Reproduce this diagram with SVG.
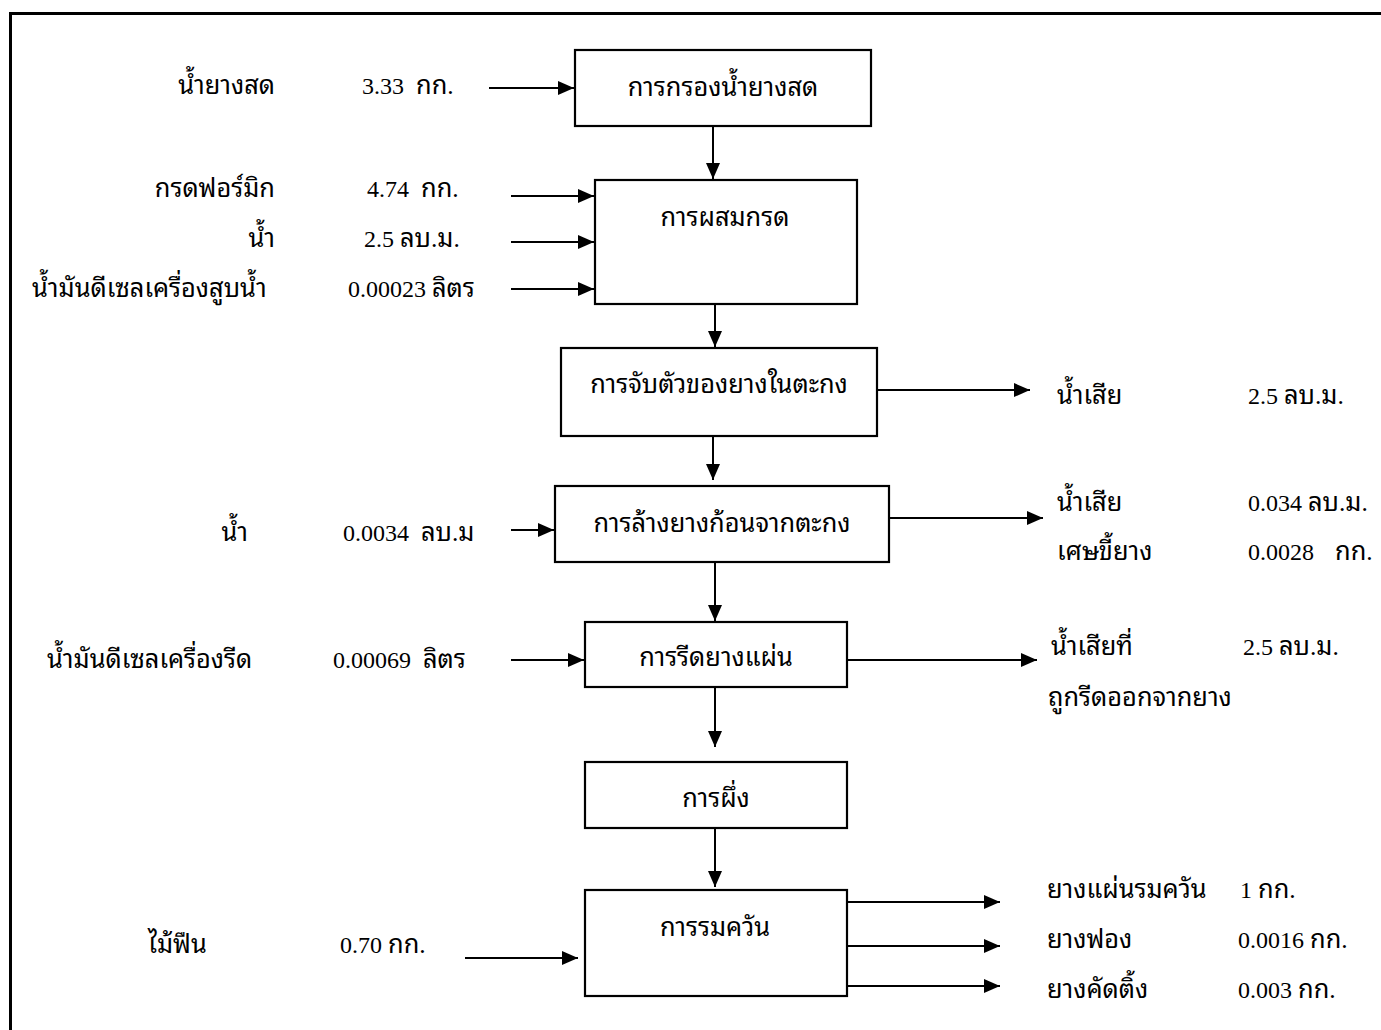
<svg xmlns="http://www.w3.org/2000/svg" width="1381" height="1030" viewBox="0 0 1381 1030">
  <style>
    .frame { fill: none; stroke: #000; stroke-width: 3; }
    .box { fill: #fff; stroke: #000; stroke-width: 2.2; }
    .flow { fill: none; stroke: #000; stroke-width: 2; marker-end: url(#head); }
    text { font-family: "Liberation Serif", "Noto Sans Thai Looped", "Noto Serif Thai", "Noto Sans", "DejaVu Sans", serif; font-size: 24px; fill: #000; white-space: pre; }
    text.th, tspan.th { font-size: 25.4px; }
    .c { text-anchor: middle; }
    .r { text-anchor: end; }
  </style>
  <defs>
    <marker id="head" viewBox="0 0 16 14" refX="16" refY="7" markerWidth="16" markerHeight="14" markerUnits="userSpaceOnUse" orient="auto">
      <path d="M0,0 L16,7 L0,14 Z" fill="#000"/>
    </marker>
  </defs>

  <rect width="1381" height="1030" fill="#fff"/>
  <!-- outer frame, runs past the right and bottom edges -->
  <rect class="frame" x="10.5" y="13.5" width="1420" height="1060"/>

  <!-- process steps -->
  <g id="step-filter">
    <rect class="box" x="575" y="50" width="296" height="76"/>
    <text class="c th" x="723" y="96">การกรองน้ำยางสด</text>
  </g>
  <g id="step-acid">
    <rect class="box" x="595" y="180" width="262" height="124"/>
    <text class="c th" x="725" y="226">การผสมกรด</text>
  </g>
  <g id="step-coagulate">
    <rect class="box" x="561" y="348" width="316" height="88"/>
    <text class="c th" x="719" y="393">การจับตัวของยางในตะกง</text>
  </g>
  <g id="step-wash">
    <rect class="box" x="555" y="486" width="334" height="76"/>
    <text class="c th" x="722" y="532">การล้างยางก้อนจากตะกง</text>
  </g>
  <g id="step-press">
    <rect class="box" x="585" y="622" width="262" height="65"/>
    <text class="c th" x="716" y="666">การรีดยางแผ่น</text>
  </g>
  <g id="step-dry">
    <rect class="box" x="585" y="762" width="262" height="66"/>
    <text class="c th" x="716" y="807">การผึ่ง</text>
  </g>
  <g id="step-smoke">
    <rect class="box" x="585" y="890" width="262" height="106"/>
    <text class="c th" x="715" y="936">การรมควัน</text>
  </g>

  <!-- inputs -->
  <g id="inputs">
    <text class="r th" x="275" y="94">น้ำยางสด</text>
    <text x="362" y="94">3.33  <tspan class="th">กก.</tspan></text>
    <text class="r th" x="275" y="197">กรดฟอร์มิก</text>
    <text x="367" y="197">4.74  <tspan class="th">กก.</tspan></text>
    <text class="r th" x="275" y="247">น้ำ</text>
    <text x="364" y="247">2.5 <tspan class="th">ลบ.ม.</tspan></text>
    <text class="th" x="32" y="297">น้ำมันดีเซลเครื่องสูบน้ำ</text>
    <text x="348" y="297">0.00023 <tspan class="th">ลิตร</tspan></text>
    <text class="r th" x="248" y="541">น้ำ</text>
    <text x="343" y="541">0.0034  <tspan class="th">ลบ.ม</tspan></text>
    <text class="th" x="47" y="668">น้ำมันดีเซลเครื่องรีด</text>
    <text x="333" y="668">0.00069  <tspan class="th">ลิตร</tspan></text>
    <text class="th" x="148" y="953">ไม้ฟืน</text>
    <text x="340" y="953">0.70 <tspan class="th">กก.</tspan></text>
  </g>

  <!-- outputs -->
  <g id="outputs">
    <text class="th" x="1057" y="404">น้ำเสีย</text>
    <text x="1248" y="404">2.5 <tspan class="th">ลบ.ม.</tspan></text>
    <text class="th" x="1057" y="511">น้ำเสีย</text>
    <text x="1248" y="511">0.034 <tspan class="th">ลบ.ม.</tspan></text>
    <text class="th" x="1057" y="560">เศษขี้ยาง</text>
    <text x="1248" y="560">0.0028</text>
    <text class="th" x="1335" y="560">กก.</text>
    <text class="th" x="1051" y="655">น้ำเสียที่</text>
    <text x="1243" y="655">2.5 <tspan class="th">ลบ.ม.</tspan></text>
    <text class="th" x="1048" y="706">ถูกรีดออกจากยาง</text>
    <text class="th" x="1047" y="898">ยางแผ่นรมควัน</text>
    <text x="1240" y="898">1 <tspan class="th">กก.</tspan></text>
    <text class="th" x="1047" y="948">ยางฟอง</text>
    <text x="1238" y="948">0.0016 <tspan class="th">กก.</tspan></text>
    <text class="th" x="1047" y="998">ยางคัดติ้ง</text>
    <text x="1238" y="998">0.003 <tspan class="th">กก.</tspan></text>
  </g>

  <!-- connectors -->
  <g id="connectors">
    <!-- main line -->
    <line class="flow" x1="713" y1="126" x2="713" y2="179"/>
    <line class="flow" x1="715" y1="304" x2="715" y2="347"/>
    <line class="flow" x1="713" y1="436" x2="713" y2="480"/>
    <line class="flow" x1="715" y1="562" x2="715" y2="621"/>
    <line class="flow" x1="715" y1="687" x2="715" y2="747"/>
    <line class="flow" x1="715" y1="828" x2="715" y2="887"/>
    <!-- feeds -->
    <line class="flow" x1="489" y1="88" x2="574" y2="88"/>
    <line class="flow" x1="511" y1="196" x2="594" y2="196"/>
    <line class="flow" x1="511" y1="242" x2="594" y2="242"/>
    <line class="flow" x1="511" y1="289" x2="594" y2="289"/>
    <line class="flow" x1="511" y1="530" x2="554" y2="530"/>
    <line class="flow" x1="511" y1="660" x2="584" y2="660"/>
    <line class="flow" x1="465" y1="958" x2="578" y2="958"/>
    <!-- discharges -->
    <line class="flow" x1="877" y1="390" x2="1030" y2="390"/>
    <line class="flow" x1="889" y1="518" x2="1043" y2="518"/>
    <line class="flow" x1="847" y1="660" x2="1037" y2="660"/>
    <line class="flow" x1="847" y1="902" x2="1000" y2="902"/>
    <line class="flow" x1="847" y1="946" x2="1000" y2="946"/>
    <line class="flow" x1="847" y1="986" x2="1000" y2="986"/>
  </g>
</svg>
